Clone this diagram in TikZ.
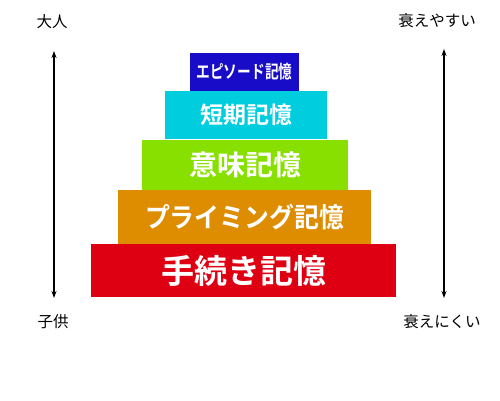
\documentclass[tikz,border=0pt]{standalone}
\usepackage{fontspec}
\setmainfont{Noto Sans CJK JP}[BoldFont={Noto Sans CJK JP Bold}]
\usetikzlibrary{arrows.meta}
\definecolor{cEpi}{RGB}{24,12,200}
\definecolor{cShort}{RGB}{0,206,222}
\definecolor{cMean}{RGB}{136,224,0}
\definecolor{cPrim}{RGB}{222,140,0}
\definecolor{cProc}{RGB}{222,0,18}
\begin{document}
\begin{tikzpicture}[x=1pt,y=-1pt,
  layer/.style={inner sep=0pt, text=white, minimum width=#1},
  lbl/.style={inner sep=0pt, text=black, font=\fontsize{15.5}{15.5}\selectfont},
  axis/.style={line width=1.3pt, {Stealth[length=7pt,width=5pt]}-{Stealth[length=7pt,width=5pt]}}]
\useasboundingbox (0,0) rectangle (500,400);
\fill[white] (0,0) rectangle (500,400);
% layers
\node[layer=109pt, minimum height=38pt, fill=cEpi, font=\fontsize{18}{18}\selectfont\bfseries] (epi) at (244.5,72) {\scalebox{0.76}[1]{エピソード記憶}};
\node[layer=162pt, minimum height=48pt, fill=cShort, font=\fontsize{23}{23}\selectfont\bfseries] (short) at (246,115) {短期記憶};
\node[layer=206pt, minimum height=51pt, fill=cMean, font=\fontsize{28}{28}\selectfont\bfseries] (mean) at (245,165) {意味記憶};
\node[layer=253pt, minimum height=54pt, fill=cPrim, font=\fontsize{27}{27}\selectfont\bfseries] (prim) at (244.5,217) {\scalebox{0.92}[1]{プライミング記憶}};
\node[layer=305pt, minimum height=53pt, fill=cProc, font=\fontsize{33}{33}\selectfont\bfseries] (proc) at (243.5,270.5) {手続き記憶};
% labels
\node[lbl] (adult) at (52,22) {大人};
\node[lbl] (child) at (53,322) {子供};
\node[lbl] (easy) at (437,21) {衰えやすい};
\node[lbl] (hard) at (442,322) {衰えにくい};
% axes
\coordinate (lt) at (54,51);
\coordinate (lb) at (54,298);
\coordinate (rt) at (444,49);
\coordinate (rb) at (444,298);
\draw[axis] (lt) -- (lb);
\draw[axis] (rt) -- (rb);
\end{tikzpicture}
\end{document}
